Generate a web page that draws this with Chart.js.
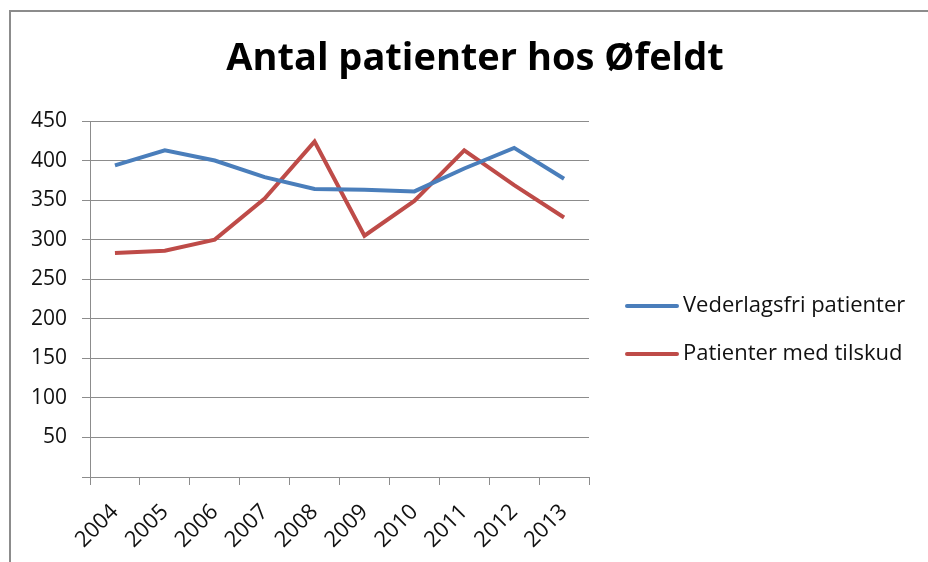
<!DOCTYPE html>
<html>
<head>
<meta charset="utf-8">
<script src="https://cdn.jsdelivr.net/npm/chart.js@4.4.0/dist/chart.umd.min.js"></script>
<style>
  body { margin: 0; background: #fff; }
  #ramme { position: absolute; left: 0; top: 0; width: 928px; height: 562px; }
  #kant { position: absolute; left: 9px; top: 10px; width: 930px; height: 600px; border-left: 2px solid #8c8c8c; border-top: 2px solid #8c8c8c; pointer-events: none; }
</style>
</head>
<body>
<div id="ramme"><canvas id="graf" width="928" height="562"></canvas></div>
<div id="kant"></div>
<script>
// Data
const aar = ['2004', '2005', '2006', '2007', '2008', '2009', '2010', '2011', '2012', '2013'];
const vederlagsfri = [394, 413, 400, 379, 364, 363, 361, 390, 416, 377];
const medTilskud = [283, 286, 300, 352, 424, 305, 349, 413, 369, 328];
const yTicks = [0, 50, 100, 150, 200, 250, 300, 350, 400, 450];
const titel = 'Antal patienter hos Øfeldt';

const gitterFarve = '#8c8c8c';
const skrift = '"Open Sans", Lato, sans-serif';

// Titel og forklaring tegnes selv, så de kan placeres som i Excel-figuren
const titelOgForklaring = {
    id: 'titelOgForklaring',
    afterDraw(chart) {
        const c = chart.ctx;
        c.save();
        c.fillStyle = '#000';
        c.font = 'bold 38px ' + skrift;
        c.textAlign = 'center';
        c.textBaseline = 'alphabetic';
        c.fillText(titel, 475, 70);

        const x0 = chart.chartArea.right + 38;
        c.font = '22px ' + skrift;
        c.textAlign = 'left';
        c.textBaseline = 'middle';
        chart.data.datasets.forEach((ds, i) => {
            const y = 306 + i * 48;
            c.strokeStyle = ds.borderColor;
            c.lineWidth = 4;
            c.lineCap = 'round';
            c.beginPath();
            c.moveTo(x0, y);
            c.lineTo(x0 + 50, y);
            c.stroke();
            c.fillStyle = '#111';
            c.fillText(ds.label, x0 + 56, y);
        });
        c.restore();
    }
};

const ctx = document.getElementById('graf').getContext('2d');
new Chart(ctx, {
    type: 'line',
    data: {
        labels: aar,
        datasets: [
            {
                label: 'Vederlagsfri patienter',
                data: vederlagsfri,
                borderColor: '#4a7ebb',
                backgroundColor: '#4a7ebb',
                borderWidth: 4,
                pointRadius: 0,
                tension: 0
            },
            {
                label: 'Patienter med tilskud',
                data: medTilskud,
                borderColor: '#be4b48',
                backgroundColor: '#be4b48',
                borderWidth: 4,
                pointRadius: 0,
                tension: 0
            }
        ]
    },
    options: {
        responsive: false,
        animation: false,
        layout: { padding: { left: 0, right: 339, top: 121, bottom: 0 } },
        plugins: {
            title: { display: false },
            legend: { display: false },
            tooltip: { enabled: false }
        },
        scales: {
            x: {
                offset: true,
                afterFit: (axis) => { axis.height = 85; },
                grid: { display: true, drawOnChartArea: false, drawTicks: true, tickLength: 8, color: gitterFarve, offset: true },
                border: { color: gitterFarve, width: 1 },
                ticks: {
                    color: '#111',
                    font: { family: skrift, size: 22 },
                    minRotation: 45,
                    maxRotation: 45,
                    padding: 14
                }
            },
            y: {
                min: 0,
                max: 450,
                afterBuildTicks: (axis) => { axis.ticks = yTicks.map(v => ({ value: v })); },
                afterFit: (axis) => { axis.width = 90; },
                grid: { color: gitterFarve, lineWidth: 1, drawTicks: true, tickLength: 8 },
                border: { color: gitterFarve, width: 1 },
                ticks: {
                    color: '#111',
                    font: { family: skrift, size: 21 },
                    padding: 15,
                    callback: (v) => v === 0 ? '' : v
                }
            }
        }
    },
    plugins: [titelOgForklaring]
});
</script>
</body>
</html>
